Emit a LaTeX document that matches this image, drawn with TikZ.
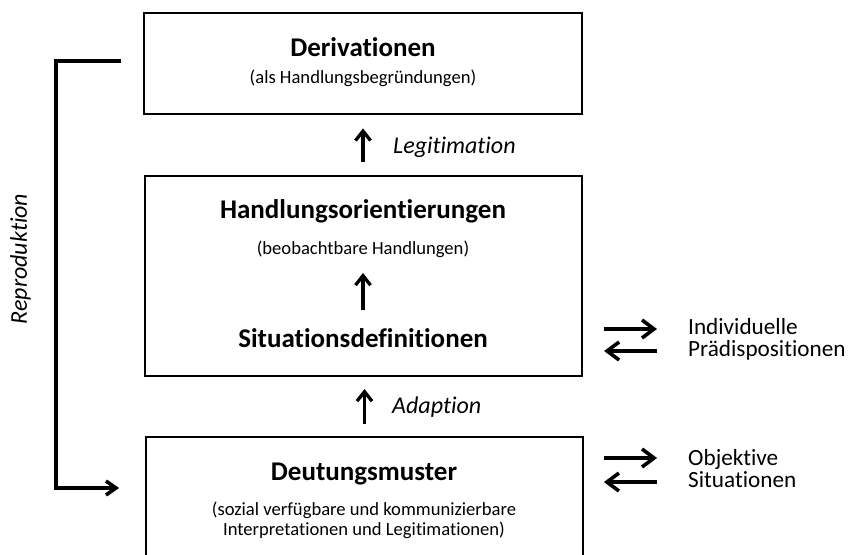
\documentclass[tikz,border=0pt]{standalone}
\usepackage{fontspec}
\setmainfont{Carlito}[Ligatures=NoCommon]
\usetikzlibrary{arrows.meta}

\tikzset{
  frame/.style={draw=black, line width=1.8pt, inner sep=0pt},
  title/.style={font=\fontsize{27}{30}\selectfont\bfseries, inner sep=0pt, anchor=base},
  note/.style={font=\fontsize{18.6}{20}\selectfont, inner sep=0pt, anchor=base, align=center},
  label/.style={font=\fontsize{24}{26}\selectfont\itshape, inner sep=0pt, anchor=base west},
  side/.style={font=\fontsize{23.2}{22}\selectfont, inner sep=0pt, anchor=base west, align=left},
  uparrow/.style={line width=3.3pt, -{Straight Barb[length=9.5pt,width=15pt]}},
  pairarrow/.style={line width=3.6pt, -{Straight Barb[length=12pt,width=18pt]}},
  loop/.style={line width=3.6pt},
}

\begin{document}
\begin{tikzpicture}[x=1pt, y=-1pt]
\useasboundingbox (0,0) rectangle (853,554);

% boxes
\node[frame, minimum width=438pt, minimum height=101pt] (deriv) at (363,63.5) {};
\node[frame, minimum width=437pt, minimum height=200pt] (orient) at (363.7,275.6) {};
\node[frame, minimum width=437pt, minimum height=140pt] (muster) at (364.5,507) {};

% texts inside the boxes (multi-line notes are placed by their last baseline)
\node[title] (derivT) at (363,56) {Derivationen};
\node[note]  (derivN) at (363,83) {(als Handlungsbegründungen)};
\node[title] (orientT) at (363,218) {Handlungsorientierungen};
\node[note]  (orientN) at (363,254) {(beobachtbare Handlungen)};
\node[title] (sitT) at (363,347.5) {Situationsdefinitionen};
\node[title] (musterT) at (364,480) {Deutungsmuster};
\node[note]  (musterN) at (364,535) {(sozial verfügbare und kommunizierbare\\Interpretationen und Legitimationen)};

% vertical arrows
\draw[uparrow, shorten <=13pt, shorten >=13.5pt] (orient.north -| deriv.south) -- (deriv.south);
\draw[uparrow, shorten <=18pt, shorten >=19pt] (sitT.north) -- (orientN.base);
\draw[uparrow, shorten <=12pt, shorten >=12.5pt] (muster.north) -- (orient.south -| muster.north);

% arrow labels
\node[label] (legit) at (393,153.3) {Legitimation};
\node[label] (adapt) at (392,413.3) {Adaption};

% reproduction loop
\node[label, anchor=base, rotate=90] (repro) at (27,259) {Reproduktion};
\coordinate (loopTop) at (121,61);
\coordinate (loopBend) at (56,488);
\draw[loop, -{Straight Barb[length=10pt,width=14pt]}, shorten >=26pt]
  (loopTop) -| (loopBend) -- (muster.west |- loopBend);

% side texts and exchange arrows
\node[side] (indiv) at (688,356) {Individuelle\\Prädispositionen};
\node[side] (objekt) at (688,487.7) {Objektive\\Situationen};
\coordinate (p1) at (0,329);
\coordinate (p2) at (0,351);
\coordinate (p3) at (0,458);
\coordinate (p4) at (0,482);
\draw[pairarrow, shorten <=21pt, shorten >=31pt] (orient.east |- p1) -- (indiv.west |- p1);
\draw[pairarrow, shorten <=31pt, shorten >=21pt] (indiv.west |- p2) -- (orient.east |- p2);
\draw[pairarrow, shorten <=20pt, shorten >=31pt] (muster.east |- p3) -- (objekt.west |- p3);
\draw[pairarrow, shorten <=31pt, shorten >=20pt] (objekt.west |- p4) -- (muster.east |- p4);
\end{tikzpicture}
\end{document}
